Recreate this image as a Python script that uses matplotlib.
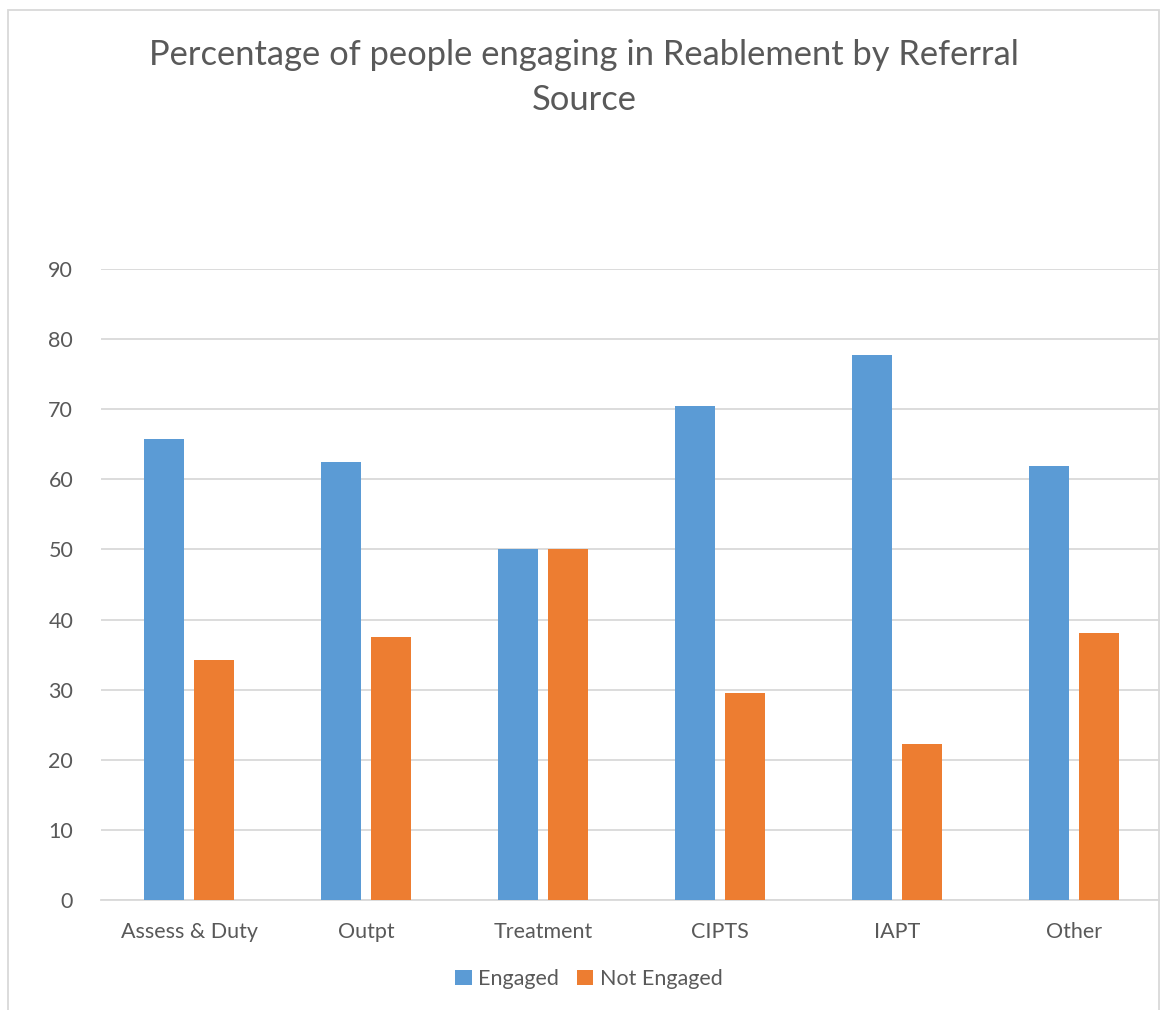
import matplotlib
matplotlib.use("Agg")
import matplotlib.pyplot as plt
import numpy as np
from matplotlib.patches import Rectangle

categories = ["Assess & Duty", "Outpt", "Treatment", "CIPTS", "IAPT", "Other"]
engaged = [65.8, 62.5, 50.0, 70.5, 77.8, 61.9]
not_engaged = [34.2, 37.5, 50.0, 29.5, 22.2, 38.1]
yticks = [0, 10, 20, 30, 40, 50, 60, 70, 80, 90]

plt.rcParams['font.family'] = ['Lato', 'DejaVu Sans']
W, H = 1160, 1010
fig = plt.figure(figsize=(W/100, H/100), dpi=100)
txt = '#595959'
grid = '#d9d9d9'

ax = fig.add_axes([101/W, 110/H, (1162-101)/W, 631/H])
x = np.arange(len(categories))
bw = 0.226
gap = 0.057
ax.bar(x - (bw+gap)/2, engaged, bw, color='#5B9BD5', label='Engaged', zorder=3)
ax.bar(x + (bw+gap)/2, not_engaged, bw, color='#ED7D31', label='Not Engaged', zorder=3)
ax.set_xlim(-0.5, len(categories)-0.5)
ax.set_ylim(0, 90)
ax.set_yticks(yticks)
ax.yaxis.grid(True, color=grid, lw=1.3, zorder=0)
for s in ['left', 'right', 'top']:
    ax.spines[s].set_visible(False)
ax.spines['bottom'].set_color(grid)
ax.spines['bottom'].set_linewidth(1.3)
ax.set_xticks(x)
ax.set_xticklabels(categories)
ax.tick_params(axis='both', length=0, labelsize=15.5, labelcolor=txt)
ax.tick_params(axis='y', pad=20)
ax.tick_params(axis='x', pad=16)

# outer chart border
fig.add_artist(Rectangle((8/W, -0.1), (1158.5-8)/W, (H-10)/H + 0.1, transform=fig.transFigure,
                         fill=False, edgecolor='#d9d9d9', lw=1.3, zorder=10))

fig.text(584/W, 1-55/H, "Percentage of people engaging in Reablement by Referral",
         ha='center', va='center', fontsize=24.8, color=txt)
fig.text(584/W, 1-100/H, "Source", ha='center', va='center', fontsize=24.8, color=txt)

fig.legend(loc='center', bbox_to_anchor=(589/W, 1-979/H), ncol=2, frameon=False,
           fontsize=15.5, labelcolor=txt, handlelength=0.75, handleheight=0.75,
           handletextpad=0.3, columnspacing=0.85)

fig.savefig('out.png', dpi=100, facecolor='white')
